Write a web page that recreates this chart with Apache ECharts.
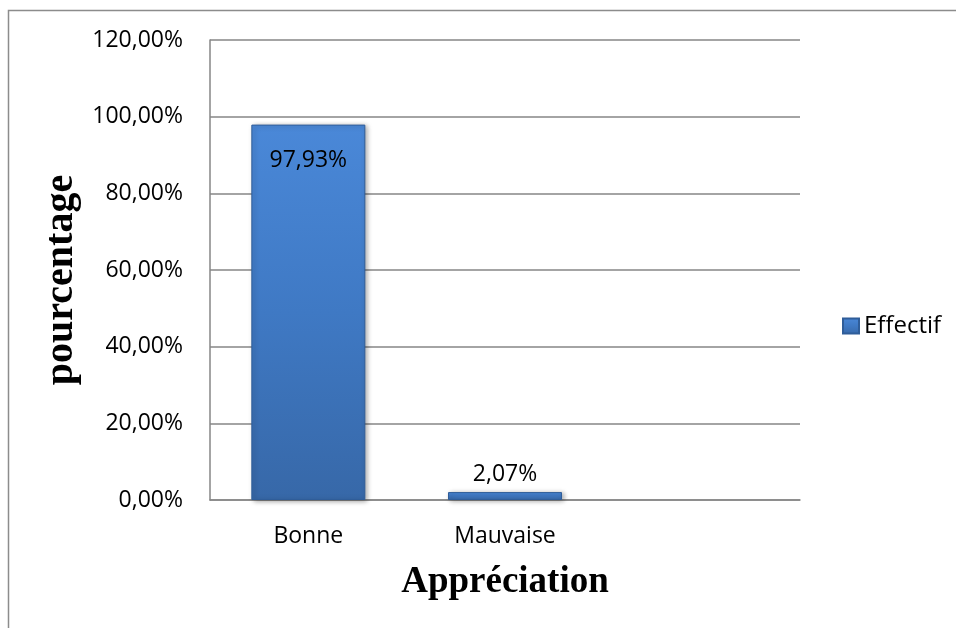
<!DOCTYPE html>
<html>
<head>
<meta charset="utf-8">
<script src="https://cdn.jsdelivr.net/npm/echarts@6/dist/echarts.min.js"></script>
<style>
html,body{margin:0;padding:0;background:#fff;}
#c{width:956px;height:628px;}
</style>
</head>
<body>
<div id="c"></div>
<script>
var categories = ['Bonne', 'Mauvaise', ''];
var effectif = [97.93, 2.07, null];
var yTicks = [0, 20, 40, 60, 80, 100, 120];
var seriesName = 'Effectif';
var yTitle = 'pourcentage';
var xTitle = 'Appréciation';

function pct(v) { return v.toFixed(2).replace('.', ',') + '%'; }

var chart = echarts.init(document.getElementById('c'), null, {renderer: 'canvas'});
var font = '"Open Sans", "Liberation Sans", sans-serif';
var serif = '"Liberation Serif", "Times New Roman", serif';
var barColor = new echarts.graphic.LinearGradient(0, 0, 0, 1, [
  {offset: 0, color: '#4a88d8'},
  {offset: 0.5, color: '#3f79c4'},
  {offset: 1, color: '#3768a8'}
]);
var data = effectif.map(function (v, i) {
  if (v === null) return null;
  return {
    value: v,
    label: i === 0 ? {position: 'insideTop', distance: 24} : {position: 'top', distance: 6}
  };
});

chart.setOption({
  animation: false,
  graphic: [{
    type: 'rect',
    shape: {x: 8.5, y: 10.5, width: 1000, height: 700},
    style: {fill: 'none', stroke: '#8c8c8c', lineWidth: 1.5},
    silent: true
  }],
  grid: {left: 210, top: 40, width: 590, height: 460},
  legend: {
    data: [seriesName],
    left: 842, top: 314, padding: 0,
    icon: 'rect', itemWidth: 16, itemHeight: 15, itemGap: 6,
    textStyle: {fontFamily: font, fontSize: 24, color: '#000'}
  },
  xAxis: {
    type: 'category',
    data: categories,
    name: xTitle,
    nameLocation: 'middle',
    nameGap: 64,
    nameTextStyle: {fontFamily: serif, fontWeight: 'bold', fontSize: 37, color: '#000'},
    axisLine: {lineStyle: {color: '#868686', width: 1.5}},
    axisTick: {show: false},
    axisLabel: {fontFamily: font, fontSize: 23, color: '#000', margin: 25}
  },
  yAxis: {
    type: 'value',
    min: 0, max: 120, interval: 20,
    name: yTitle,
    nameLocation: 'middle',
    nameRotate: 90,
    nameGap: 114,
    nameTextStyle: {fontFamily: serif, fontWeight: 'bold', fontSize: 40, color: '#000', padding: [0, 20, 0, 0]},
    axisLine: {show: true, lineStyle: {color: '#868686', width: 1.5}},
    axisTick: {show: false},
    splitLine: {lineStyle: {color: '#868686', width: 1.5}},
    axisLabel: {fontFamily: font, fontSize: 23, color: '#000', margin: 27, formatter: function (v) { return pct(v); }}
  },
  series: [{
    name: seriesName,
    type: 'bar',
    data: data,
    barWidth: 114,
    itemStyle: {
      color: barColor,
      borderColor: '#2f5d99',
      borderWidth: 1,
      shadowColor: 'rgba(0,0,0,0.35)',
      shadowBlur: 5,
      shadowOffsetX: 2,
      shadowOffsetY: 1
    },
    label: {
      show: true,
      fontFamily: font,
      fontSize: 23,
      color: '#000',
      formatter: function (p) { return pct(p.value); }
    }
  }]
});
</script>
</body>
</html>
